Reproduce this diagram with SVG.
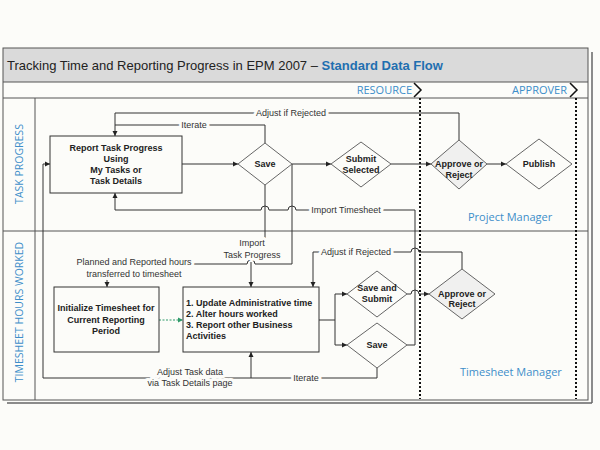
<svg xmlns="http://www.w3.org/2000/svg" width="600" height="450" viewBox="0 0 600 450">
<defs>
<marker id="ah" markerWidth="6" markerHeight="6" refX="5" refY="3" orient="auto" markerUnits="userSpaceOnUse"><path d="M0,0.5 L5,3 L0,5.5 z" fill="#222"/></marker>
<marker id="ahg" markerWidth="6" markerHeight="6" refX="5" refY="3" orient="auto" markerUnits="userSpaceOnUse"><path d="M0,0.5 L5,3 L0,5.5 z" fill="#2e9a6a"/></marker>
<style>
.box{fill:#fcfcf9;stroke:#333;stroke-width:1}
.dia{fill:#fcfcf9;stroke:#666;stroke-width:1}
.diag{fill:#f0f0ef;stroke:#666;stroke-width:1}
.nt{font-family:"Liberation Sans",Arial,sans-serif;font-size:9px;font-weight:bold;fill:#222;text-anchor:middle}
.ntl{font-family:"Liberation Sans",Arial,sans-serif;font-size:9px;font-weight:bold;fill:#222}
.c{fill:none;stroke:#333;stroke-width:1}
.ca{fill:none;stroke:#333;stroke-width:1;marker-end:url(#ah)}
.lb{font-family:"Liberation Sans",Arial,sans-serif;font-size:9px;fill:#333;text-anchor:middle;paint-order:stroke;stroke:#fcfcf9;stroke-width:6px;stroke-linejoin:round}
.lane{font-family:"Open Sans","Noto Sans",sans-serif;font-size:10.5px;fill:#3d8ec9;text-anchor:middle}
.role{font-family:"Open Sans","Noto Sans",sans-serif;font-size:11px;fill:#3d8ec9}
.frame{fill:none;stroke:#555;stroke-width:1}
.dot{stroke:#111;stroke-width:2;stroke-dasharray:2,2}
</style>
</defs>
<rect x="0" y="0" width="600" height="450" fill="#fcfcf9"/>
<g id="frame">
<rect x="3" y="48" width="585" height="34" fill="#dadada"/>
<rect x="3" y="48" width="585" height="352" class="frame"/>
<line x1="592" y1="52" x2="592" y2="403" stroke="#666" stroke-width="1.5"/>
<line x1="7" y1="403" x2="592" y2="403" stroke="#666" stroke-width="1.5"/>
<line x1="3" y1="82" x2="588" y2="82" class="frame"/>
<line x1="3" y1="98" x2="588" y2="98" class="frame"/>
<line x1="3" y1="231" x2="588" y2="231" class="frame"/>
<line x1="35" y1="98" x2="35" y2="400" class="frame"/>
<text x="7" y="70" font-family="Liberation Sans, Arial, sans-serif" font-size="13" fill="#222">Tracking Time and Reporting Progress in EPM 2007 – <tspan font-weight="bold" fill="#1f6fb0">Standard Data Flow</tspan></text>
<text x="412" y="94" class="role" font-size="10.5" text-anchor="end">RESOURCE</text>
<text x="567" y="94" class="role" font-size="10.5" text-anchor="end">APPROVER</text>
<polyline points="414,83 421,90 414,97" fill="none" stroke="#111" stroke-width="1.5"/>
<polyline points="570,83 577,90 570,97" fill="none" stroke="#111" stroke-width="1.5"/>
<line x1="420" y1="98" x2="420" y2="399" class="dot"/>
<line x1="576" y1="98" x2="576" y2="399" class="dot"/>
<text class="lane" transform="translate(23,164) rotate(-90)">TASK PROGRESS</text>
<text class="lane" transform="translate(23,312) rotate(-90)">TIMESHEET HOURS WORKED</text>
<text x="468" y="221" class="role">Project Manager</text>
<text x="460" y="376" class="role">Timesheet Manager</text>
</g>
<g id="connectors">
<path class="ca" d="M182,164 H238"/>
<path class="ca" d="M292,164 H331"/>
<path class="ca" d="M391,164 H431"/>
<path class="ca" d="M487,164 H506"/>
<path class="ca" d="M459,140 V113 H115 V136"/>
<path class="c" d="M265,143 V125 H115"/>
<path class="ca" d="M407,345 H415 V210 H296 a4,4 0 0 0 -8,0 H269 a4,4 0 0 0 -8,0 H115 V193"/>
<path class="c" d="M265,185 V238"/>
<path class="ca" d="M251,262 V287"/>
<path class="c" d="M292,164 V264 H255 a4,4 0 0 0 -8,0 H193"/>
<path class="ca" d="M107,279 V287"/>
<path d="M159,320 H183" fill="none" stroke="#2e9a6a" stroke-width="1" stroke-dasharray="2,1.5" marker-end="url(#ahg)"/>
<path class="c" d="M319,320 H335 M335,294 V345"/>
<path class="ca" d="M335,294 H347"/>
<path class="ca" d="M335,345 H347"/>
<path class="ca" d="M407,294 H411 a4,4 0 0 1 8,0 H429"/>
<path class="ca" d="M462,269 V252 H419 a4,4 0 0 0 -8,0 H313 V287"/>
<path class="ca" d="M377,368 V378 H251 V352"/>
<path class="ca" d="M251,378 H43 V164 H50"/>
<text x="291" y="116" class="lb">Adjust if Rejected</text>
<text x="194" y="128" class="lb">Iterate</text>
<text x="346" y="213" class="lb">Import Timesheet</text>
<text x="252" y="246" class="lb">Import</text>
<text x="252" y="258" class="lb">Task Progress</text>
<text x="134" y="265" class="lb">Planned and Reported hours</text>
<text x="134" y="277" class="lb">transferred to timesheet</text>
<text x="356" y="255" class="lb">Adjust if Rejected</text>
<text x="306" y="381" class="lb">Iterate</text>
<text x="190" y="375" class="lb">Adjust Task data</text>
<text x="190" y="386" class="lb">via Task Details page</text>
</g>
<g id="report-task-progress">
<rect x="50" y="136" width="132" height="57" class="box"/>
<text class="nt" x="116" y="151">Report Task Progress</text>
<text class="nt" x="116" y="162">Using</text>
<text class="nt" x="116" y="173">My Tasks or</text>
<text class="nt" x="116" y="184">Task Details</text>
</g>
<g id="save-task">
<polygon points="265,143 292,164 265,185 238,164" class="dia"/>
<text class="nt" x="265" y="167">Save</text>
</g>
<g id="submit-selected">
<polygon points="361,142 391,164 361,187 331,164" class="dia"/>
<text class="nt" x="361" y="162">Submit</text>
<text class="nt" x="361" y="173">Selected</text>
</g>
<g id="approve-task">
<polygon points="459,140 487,164 459,189 431,164" class="diag"/>
<text class="nt" x="459" y="167">Approve or</text>
<text class="nt" x="459" y="178">Reject</text>
</g>
<g id="publish">
<polygon points="539,139 572,164 539,189 506,164" class="dia"/>
<text class="nt" x="539" y="167">Publish</text>
</g>
<g id="initialize-timesheet">
<rect x="54" y="287" width="105" height="65" class="box"/>
<text class="nt" x="106" y="311">Initialize Timesheet for</text>
<text class="nt" x="106" y="323">Current Reporting</text>
<text class="nt" x="106" y="334">Period</text>
</g>
<g id="update-timesheet">
<rect x="183" y="287" width="136" height="65" class="box"/>
<text class="ntl" x="186" y="306">1. Update Administrative time</text>
<text class="ntl" x="186" y="317">2. Alter hours worked</text>
<text class="ntl" x="186" y="328">3. Report other Business</text>
<text class="ntl" x="186" y="339">Activities</text>
</g>
<g id="save-and-submit">
<polygon points="377,271 407,294 377,317 347,294" class="dia"/>
<text class="nt" x="377" y="291">Save and</text>
<text class="nt" x="377" y="302">Submit</text>
</g>
<g id="save-timesheet">
<polygon points="377,323 407,345 377,368 347,345" class="dia"/>
<text class="nt" x="377" y="348">Save</text>
</g>
<g id="approve-timesheet">
<polygon points="462,269 495,294 462,319 429,294" class="diag"/>
<text class="nt" x="462" y="297">Approve or</text>
<text class="nt" x="462" y="307">Reject</text>
</g>
</svg>
